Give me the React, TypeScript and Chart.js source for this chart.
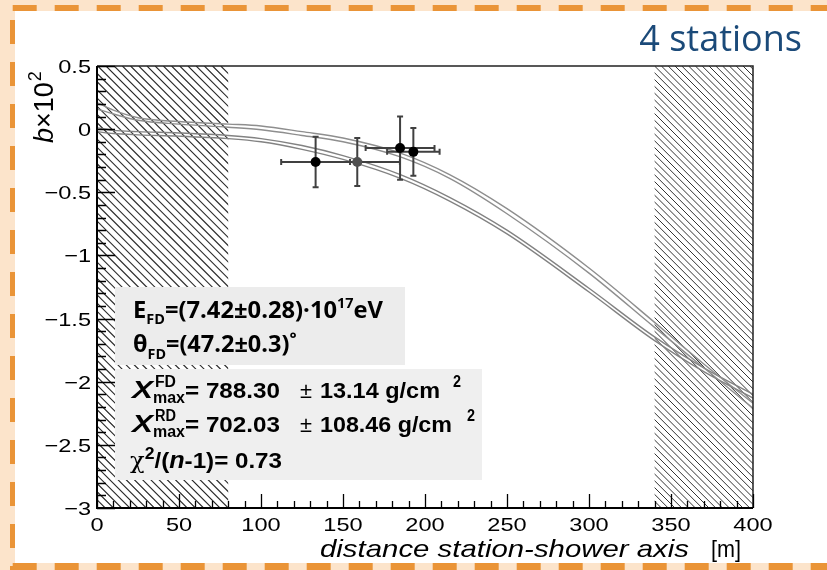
import React, { useEffect, useRef } from "react";
import { Chart, registerables } from "chart.js";

Chart.register(...registerables);

// ---------------- data ----------------
const xSamples = [0, 10, 25, 50, 80, 100, 125, 150, 185, 215, 250, 300, 340, 370, 400];
const upperCurveTop = [0.21, 0.15, 0.09, 0.06, 0.04, 0.025, -0.02, -0.07, -0.19, -0.36, -0.63, -1.1, -1.53, -1.86, -2.17];
const upperCurveBottom = [0.16, 0.12, 0.07, 0.04, 0.015, -0.005, -0.05, -0.1, -0.22, -0.39, -0.67, -1.14, -1.57, -1.89, -2.21];
const lowerCurveTop = [0.01, -0.01, -0.02, -0.03, -0.05, -0.075, -0.13, -0.21, -0.36, -0.54, -0.8, -1.26, -1.645, -1.89, -2.1];
const lowerCurveBottom = [-0.02, -0.035, -0.045, -0.055, -0.075, -0.1, -0.16, -0.24, -0.39, -0.57, -0.83, -1.29, -1.675, -1.92, -2.13];

const stationDist = [133.3, 158.7, 184.8, 192.9];
const stationDistErr = [21, 26, 21, 16];
const stationB = [-0.26, -0.26, -0.15, -0.18];
const stationBErr = [0.2, 0.19, 0.25, 0.19];
const stationColors = ["#000000", "#505050", "#000000", "#000000"];

const xTicks = [0, 50, 100, 150, 200, 250, 300, 350, 400];
const xTickLabels = ["0", "50", "100", "150", "200", "250", "300", "350", "400"];
const yTicks = [0.5, 0, -0.5, -1, -1.5, -2, -2.5, -3];
const yTickLabels = ["0.5", "0", "\u22120.5", "\u22121", "\u22121.5", "\u22122", "\u22122.5", "\u22123"];
const excludedRanges = [
  [0, 80],
  [340, 400],
];

const titleText = "4 stations";
const xTitle = "distance station-shower axis";
const xUnit = "[m]";

// ---------------- helpers ----------------
function fitText(ctx: CanvasRenderingContext2D, s: string, x0: number, x1: number, y: number, font: string, color = "#000") {
  ctx.save();
  ctx.font = font;
  ctx.fillStyle = color;
  ctx.textAlign = "left";
  ctx.textBaseline = "alphabetic";
  const w = ctx.measureText(s).width;
  const sx = (x1 - x0) / w;
  ctx.translate(x0, y);
  ctx.scale(sx, 1);
  ctx.fillText(s, 0, 0);
  ctx.restore();
}

function stretchText(ctx: CanvasRenderingContext2D, s: string, x: number, y: number, font: string, sx: number, align: string) {
  ctx.save();
  ctx.font = font;
  ctx.fillStyle = "#000";
  ctx.textAlign = "left";
  ctx.textBaseline = "alphabetic";
  const w = ctx.measureText(s).width * sx;
  const left = align === "center" ? x - w / 2 : align === "right" ? x - w : x;
  ctx.translate(left, y);
  ctx.scale(sx, 1);
  ctx.fillText(s, 0, 0);
  ctx.restore();
}

type Seg = { t: string; f: string; dy?: number };
function richFit(ctx: CanvasRenderingContext2D, segs: Seg[], x0: number, x1: number, y: number, color = "#000") {
  ctx.save();
  ctx.fillStyle = color;
  ctx.textAlign = "left";
  ctx.textBaseline = "alphabetic";
  let total = 0;
  const ws: number[] = [];
  for (const s of segs) {
    ctx.font = s.f;
    const w = ctx.measureText(s.t).width;
    ws.push(w);
    total += w;
  }
  const sx = (x1 - x0) / total;
  let cx = x0;
  segs.forEach((s, i) => {
    ctx.save();
    ctx.font = s.f;
    ctx.translate(cx, y + (s.dy || 0));
    ctx.scale(sx, 1);
    ctx.fillText(s.t, 0, 0);
    ctx.restore();
    cx += ws[i] * sx;
  });
  ctx.restore();
}

const decorPlugin = {
  id: "decor",
  beforeDraw(chart: any) {
    const { ctx, width, height } = chart;
    ctx.save();
    ctx.fillStyle = "#fce4cb";
    ctx.fillRect(0, 0, width, height);
    ctx.fillStyle = "#ffffff";
    ctx.fillRect(15, 11, width - 15, 552);
    ctx.strokeStyle = "#ea9437";
    ctx.setLineDash([24, 18]);
    ctx.lineWidth = 6;
    ctx.beginPath();
    ctx.moveTo(12.7, 8);
    ctx.lineTo(width + 40, 8);
    ctx.stroke();
    ctx.lineWidth = 7;
    ctx.beginPath();
    ctx.moveTo(12.7, 566.5);
    ctx.lineTo(width + 40, 566.5);
    ctx.stroke();
    ctx.lineWidth = 5;
    ctx.beginPath();
    ctx.moveTo(12.5, 20);
    ctx.lineTo(12.5, height + 40);
    ctx.stroke();
    ctx.restore();
  },
  beforeDatasetsDraw(chart: any) {
    const { ctx, chartArea: ca, scales } = chart;
    const x = scales.x;
    const H = ca.bottom - ca.top;
    excludedRanges.forEach(([a, b], idx) => {
      const x0 = x.getPixelForValue(a);
      const x1 = x.getPixelForValue(b);
      ctx.save();
      ctx.beginPath();
      ctx.rect(x0, ca.top, x1 - x0, H);
      ctx.clip();
      ctx.strokeStyle = idx === 0 ? "#2a2a2a" : "#333333";
      ctx.lineWidth = idx === 0 ? 1.1 : 1;
      const step = idx === 0 ? 8.2 : 6.8;
      ctx.beginPath();
      for (let s = x0 - H; s < x1 + step; s += step) {
        ctx.moveTo(s, ca.top);
        ctx.lineTo(s + H, ca.bottom);
      }
      ctx.stroke();
      ctx.restore();
    });
    // info boxes
    ctx.save();
    ctx.fillStyle = "#ececec";
    ctx.fillRect(115, 287, 290, 78);
    ctx.fillStyle = "#efefef";
    ctx.fillRect(115, 369, 367, 111);
    ctx.restore();
  },
  beforeDatasetDraw(chart: any, args: any) {
    if (args.index !== 0) return;
    const { ctx, scales } = chart;
    const x = scales.x;
    const y = scales.y;
    ctx.save();
    ctx.strokeStyle = "#404040";
    ctx.lineWidth = 2;
    const cap = 3;
    stationDist.forEach((d, i) => {
      const px = x.getPixelForValue(d);
      const py = y.getPixelForValue(stationB[i]);
      const xl = x.getPixelForValue(d - stationDistErr[i]);
      const xr = x.getPixelForValue(d + stationDistErr[i]);
      const yt = y.getPixelForValue(stationB[i] + stationBErr[i]);
      const yb = y.getPixelForValue(stationB[i] - stationBErr[i]);
      ctx.beginPath();
      ctx.moveTo(xl, py);
      ctx.lineTo(xr, py);
      ctx.moveTo(xl, py - cap);
      ctx.lineTo(xl, py + cap);
      ctx.moveTo(xr, py - cap);
      ctx.lineTo(xr, py + cap);
      ctx.moveTo(px, yt);
      ctx.lineTo(px, yb);
      ctx.moveTo(px - cap, yt);
      ctx.lineTo(px + cap, yt);
      ctx.moveTo(px - cap, yb);
      ctx.lineTo(px + cap, yb);
      ctx.stroke();
    });
    ctx.restore();
  },
  afterDraw(chart: any) {
    const { ctx, chartArea: ca, scales } = chart;
    const x = scales.x;
    const y = scales.y;
    ctx.save();
    // frame
    ctx.strokeStyle = "#222";
    ctx.lineWidth = 1.5;
    ctx.beginPath();
    ctx.moveTo(ca.left, ca.top);
    ctx.lineTo(ca.right, ca.top);
    ctx.lineTo(ca.right, ca.bottom);
    ctx.stroke();
    ctx.strokeStyle = "#000";
    ctx.lineWidth = 2;
    ctx.beginPath();
    ctx.moveTo(ca.left, ca.top);
    ctx.lineTo(ca.left, ca.bottom);
    ctx.lineTo(ca.right, ca.bottom);
    ctx.stroke();
    // inner ticks
    ctx.lineWidth = 1.3;
    ctx.beginPath();
    for (let k = 0; k <= 35; k++) {
      const v = -3 + k * 0.1;
      const py = Math.round(y.getPixelForValue(v)) + 0.5;
      const len = k % 5 === 0 ? 18 : 9;
      ctx.moveTo(ca.left, py);
      ctx.lineTo(ca.left + len, py);
    }
    for (let k = 0; k <= 40; k++) {
      const v = k * 10;
      const px = Math.round(x.getPixelForValue(v)) + 0.5;
      const len = k % 5 === 0 ? 14 : 7;
      ctx.moveTo(px, ca.bottom);
      ctx.lineTo(px, ca.bottom - len);
    }
    ctx.stroke();
    ctx.restore();

    // tick labels
    const tf = '19px "Liberation Sans"';
    yTicks.forEach((v, i) => {
      stretchText(ctx, yTickLabels[i], 91, y.getPixelForValue(v) + 7, tf, 1.24, "right");
    });
    xTicks.forEach((v, i) => {
      stretchText(ctx, xTickLabels[i], x.getPixelForValue(v), 531, tf, 1.24, "center");
    });

    // axis titles
    fitText(ctx, xTitle, 320, 689, 557, 'italic 24px "Liberation Sans"');
    fitText(ctx, xUnit, 711, 741, 557, '24px "Liberation Sans"');

    ctx.save();
    ctx.translate(53, 143);
    ctx.rotate(-Math.PI / 2);
    ctx.fillStyle = "#000";
    ctx.textAlign = "left";
    ctx.textBaseline = "alphabetic";
    ctx.font = 'italic 27px "Liberation Sans"';
    ctx.fillText("b", 0, 0);
    let off = ctx.measureText("b").width;
    ctx.font = '27px "Liberation Sans"';
    ctx.fillText("\u00d710", off, 0);
    off += ctx.measureText("\u00d710").width;
    ctx.font = '18px "Liberation Sans"';
    ctx.fillText("2", off + 1, -12);
    ctx.restore();

    // title
    ctx.save();
    ctx.font = '36px "Open Sans"';
    ctx.fillStyle = "#1b4a79";
    ctx.textAlign = "right";
    ctx.textBaseline = "alphabetic";
    ctx.fillText(titleText, 802, 51);
    ctx.restore();

    // box 1 text
    const B = 'bold 23px "Open Sans"';
    const Bs = 'bold 14px "Open Sans"';
    richFit(
      ctx,
      [
        { t: "E", f: B },
        { t: "FD", f: Bs, dy: 6 },
        { t: "=(7.42\u00b10.28)\u00b710", f: B },
        { t: "17", f: Bs, dy: -10 },
        { t: "eV", f: B },
      ],
      133,
      383,
      318
    );
    richFit(
      ctx,
      [
        { t: "\u03b8", f: B },
        { t: "FD", f: Bs, dy: 7 },
        { t: "=(47.2\u00b10.3)", f: B },
        { t: "\u02da", f: B },
      ],
      133,
      297,
      352
    );

    // box 2 text
    const H = 'bold 22px "Liberation Sans"';
    const HX = 'italic bold 23px "Liberation Sans"';
    const HS = 'bold 16px "Liberation Sans"';
    const HP = '22px "Liberation Sans"';
    const lines = [
      { base: 398, sup: "FD", val: "= 788.30", err: "13.14 g/cm", errEnd: 440, sq: 453 },
      { base: 432, sup: "RD", val: "= 702.03", err: "108.46 g/cm", errEnd: 452, sq: 467 },
    ];
    lines.forEach((l) => {
      fitText(ctx, "X", 132, 153, l.base, HX);
      fitText(ctx, l.sup, 155, 176, l.base - 11, HS);
      fitText(ctx, "max", 153, 185, l.base + 4.5, HS);
      fitText(ctx, l.val, 185, 280, l.base, H);
      fitText(ctx, "\u00b1", 300, 312, l.base, HP);
      fitText(ctx, l.err, 320, l.errEnd, l.base, H);
      fitText(ctx, "2", l.sq, l.sq + 8, l.base - 11, HS);
    });
    richFit(
      ctx,
      [
        { t: "\u03c7", f: '22px "DejaVu Serif"' },
        { t: "2", f: HS, dy: -9 },
        { t: "/(", f: H },
        { t: "n", f: HX },
        { t: "-1)= 0.73", f: H },
      ],
      130,
      282,
      468
    );
  },
};

export default function App() {
  const canvasRef = useRef<HTMLCanvasElement | null>(null);

  useEffect(() => {
    const canvas = canvasRef.current;
    if (!canvas) return;
    const curves = [
      { name: "upper fit edge a", values: upperCurveTop, color: "#8e8e8e" },
      { name: "upper fit edge b", values: upperCurveBottom, color: "#8e8e8e" },
      { name: "lower fit edge a", values: lowerCurveTop, color: "#828282" },
      { name: "lower fit edge b", values: lowerCurveBottom, color: "#828282" },
    ];
    const chart = new Chart(canvas, {
      type: "scatter",
      data: {
        datasets: [
          {
            label: "stations",
            data: stationDist.map((d, i) => ({ x: d, y: stationB[i] })),
            pointRadius: 5,
            pointBackgroundColor: stationColors,
            pointBorderWidth: 0,
            showLine: false,
            order: 0,
          } as any,
          ...curves.map(
            (c) =>
              ({
                label: c.name,
                data: xSamples.map((xv, i) => ({ x: xv, y: c.values[i] })),
                showLine: true,
                borderColor: c.color,
                borderWidth: 1.4,
                pointRadius: 0,
                cubicInterpolationMode: "monotone",
                fill: false,
                order: 1,
              } as any)
          ),
        ],
      },
      options: {
        responsive: false,
        animation: false,
        devicePixelRatio: 1,
        events: [],
        layout: { padding: { left: 97, right: 74, top: 66, bottom: 62 } },
        plugins: { legend: { display: false }, tooltip: { enabled: false } },
        scales: {
          x: { type: "linear", min: 0, max: 400, display: false },
          y: { type: "linear", min: -3, max: 0.5, display: false },
        },
      },
      plugins: [decorPlugin],
    });
    return () => chart.destroy();
  }, []);

  return (
    <div style={{ position: "absolute", left: 0, top: 0, width: 827, height: 570 }}>
      <canvas ref={canvasRef} width={827} height={570} style={{ display: "block" }} />
    </div>
  );
}
